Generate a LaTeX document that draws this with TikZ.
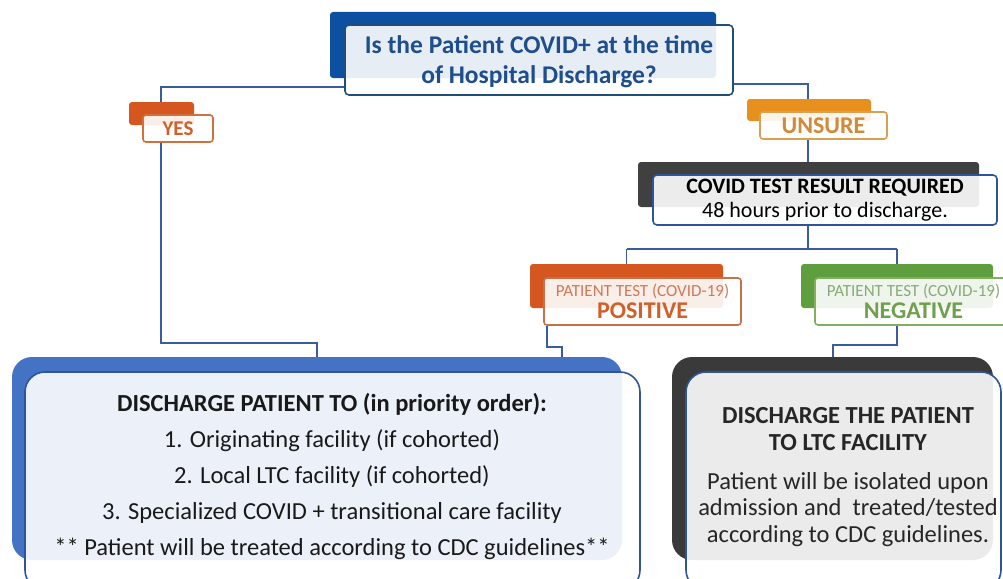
\documentclass[tikz,border=0pt]{standalone}
\usepackage{fontspec}
\setmainfont{Carlito}
\usepackage{xcolor}
\definecolor{titleback}{HTML}{0D4FA0}
\definecolor{titleedge}{HTML}{1F4E79}
\definecolor{titletext}{HTML}{1F4E8C}
\definecolor{yesback}{HTML}{D5561E}
\definecolor{yesedge}{HTML}{D0703A}
\definecolor{yestext}{HTML}{D0602A}
\definecolor{unsback}{HTML}{E8901E}
\definecolor{unsedge}{HTML}{D9A050}
\definecolor{unstext}{HTML}{D08A3A}
\definecolor{darkback}{HTML}{404040}
\definecolor{boxedge}{HTML}{2F5597}
\definecolor{posedge}{HTML}{C8704A}
\definecolor{possmall}{HTML}{D0785A}
\definecolor{negback}{HTML}{5E9E3E}
\definecolor{negedge}{HTML}{80B060}
\definecolor{negsmall}{HTML}{88AA78}
\definecolor{negtext}{HTML}{6EA04E}
\definecolor{blback}{HTML}{4472C4}
\definecolor{brback}{HTML}{3A3A3A}
\definecolor{wirec}{HTML}{3A5DA0}

\begin{document}
\begin{tikzpicture}[x=1pt,y=-1pt]
\tikzset{back/.style={rounded corners=3pt,inner sep=0pt}}
\tikzset{front/.style={draw,line width=1.6pt,rounded corners=4pt,fill=white,fill opacity=0.9,text opacity=1,inner sep=0pt,align=center}}
\tikzset{bigbox/.style={rounded corners=20pt}}
\tikzset{wire/.style={draw=wirec,line width=1.8pt}}

\useasboundingbox (0,0) rectangle (1003,578);
\clip (0,0) rectangle (1003,578);

% question
\node[back,fill=titleback,minimum width=386pt,minimum height=66pt] (titleB) at (523,45) {};
\node[front,draw=titleedge,text=titletext,minimum width=388pt,minimum height=70pt,
  font=\fontsize{25.5}{30}\selectfont\bfseries] (titleF) at (539,60) {};
\node[align=center,text=titletext,font=\fontsize{25.5}{30}\selectfont\bfseries] (titleT) at (539,62)
  {Is the Patient COVID+ at the time\\of Hospital Discharge?};

% answers
\node[back,fill=yesback,minimum width=65pt,minimum height=23pt] (yesB) at (161.5,113.5) {};
\node[front,draw=yesedge,text=yestext,rounded corners=3pt,minimum width=70pt,minimum height=27pt,
  font=\fontsize{21}{22}\selectfont\bfseries] (yesF) at (178,128.5) {YES};
\node[back,fill=unsback,minimum width=124pt,minimum height=22pt] (unsB) at (809,110) {};
\node[front,draw=unsedge,text=unstext,rounded corners=3pt,minimum width=127pt,minimum height=27pt,
  font=\fontsize{24}{24}\selectfont\bfseries] (unsF) at (823.5,125.5) {UNSURE};

% test
\node[back,fill=darkback,minimum width=341pt,minimum height=45pt] (testB) at (808.5,184.5) {};
\node[front,draw=boxedge,text=black,minimum width=344pt,minimum height=50pt,
  font=\fontsize{22}{24}\selectfont] (testF) at (825,200)
  {\bfseries COVID TEST RESULT REQUIRED\\\mdseries 48 hours prior to discharge.};

% results
\node[back,fill=yesback,minimum width=193pt,minimum height=44pt] (posB) at (626.5,286) {};
\node[front,draw=posedge,text=yestext,rounded corners=3pt,minimum width=197pt,minimum height=47pt,
  font=\fontsize{24}{22}\selectfont] (posF) at (642.5,301.5)
  {\textcolor{possmall}{\fontsize{17}{18}\selectfont PATIENT TEST (COVID-19)}\\\bfseries POSITIVE};
\node[back,fill=negback,minimum width=192pt,minimum height=44pt] (negB) at (897,286) {};
\node[front,draw=negedge,text=negtext,rounded corners=3pt,minimum width=197pt,minimum height=47pt,
  font=\fontsize{24}{22}\selectfont] (negF) at (913.5,301.5)
  {\textcolor{negsmall}{\fontsize{17}{18}\selectfont PATIENT TEST (COVID-19)}\\\bfseries NEGATIVE};

% outcomes
\node[back,bigbox,fill=blback,minimum width=610pt,minimum height=203pt] (blB) at (317,458.5) {};
\node[front,bigbox,draw=boxedge,minimum width=615pt,minimum height=218pt] (blF) at (332.5,481) {};
\node[align=center,text=black!90,font=\fontsize{24.5}{36}\selectfont] (blT) at (332,477)
  {\textbf{DISCHARGE PATIENT TO (in priority order):}\\
   1. Originating facility (if cohorted)\\
   2. Local LTC facility (if cohorted)\\
   3. Specialized COVID + transitional care facility\\
   ** Patient will be treated according to CDC guidelines**};
\node[back,bigbox,fill=brback,minimum width=321pt,minimum height=203pt] (brB) at (832.5,458.5) {};
\node[front,bigbox,draw=boxedge,minimum width=315pt,minimum height=218pt] (brF) at (843.5,481) {};
\node[align=center,text=black!85,font=\fontsize{24.5}{26.5}\selectfont] (brT) at (848,477)
  {\textbf{DISCHARGE THE PATIENT}\\
   \textbf{TO LTC FACILITY}\\[12.5pt]
   Patient will be isolated upon\\
   admission and\ \ treated/tested\\
   according to CDC guidelines.};

% connectors
\coordinate (jL) at (161,87);
\coordinate (jR) at (808,84);
\coordinate (jY) at (317,343);
\coordinate (jT) at (808,249);
\coordinate (jP) at (547,347);
\coordinate (jP2) at (562,347);
\coordinate (jN) at (833,345);

\draw[wire] (titleF.west |- jL) -- (jL) -- (jL |- yesB.north);
\draw[wire] (titleF.east |- jR) -- (jR) -- (jR |- unsB.north);
\draw[wire] (jL |- yesF.south) -- (jL |- jY) -- (jY) -- (jY |- blB.north);
\draw[wire] (jR |- unsF.south) -- (jR |- testB.north);
\draw[wire] (jT |- testF.south) -- (jT);
\draw[wire] (posB.north |- jT) -- (negB.north |- jT);
\draw[wire] (posB.north |- jT) -- (posB.north);
\draw[wire] (negB.north |- jT) -- (negB.north);
\draw[wire] (jP |- posF.south) -- (jP) -- (jP2) -- (jP2 |- blB.north);
\draw[wire] (negB.south |- negF.south) -- (negB.south |- jN) -- (jN) -- (jN |- brB.north);

\end{tikzpicture}
\end{document}
